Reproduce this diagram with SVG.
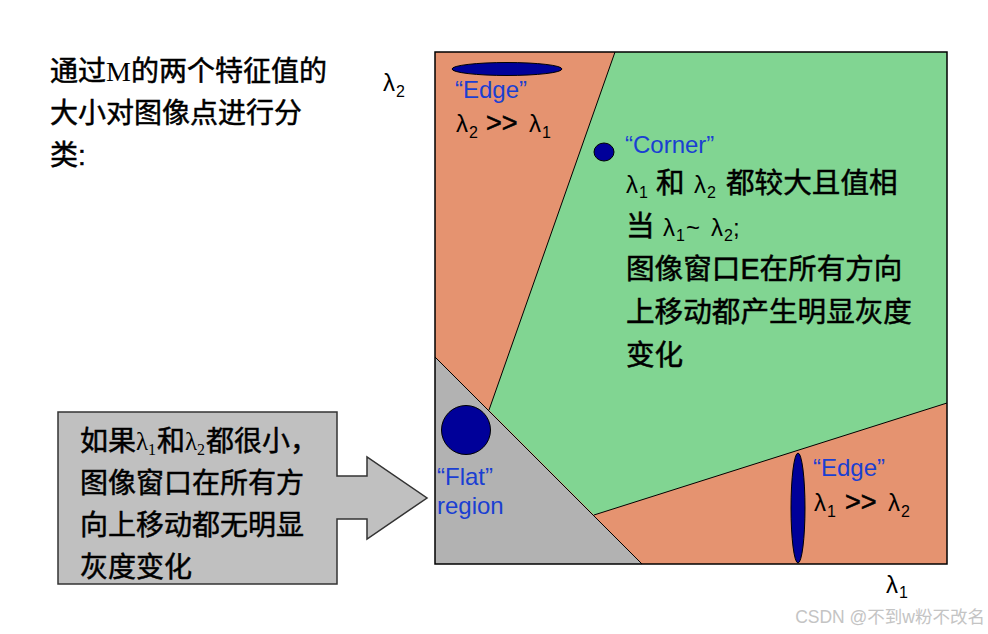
<svg xmlns="http://www.w3.org/2000/svg" width="988" height="634" viewBox="0 0 988 634">
<style>
.cjk{font-family:"Liberation Sans","Noto Sans CJK SC",sans-serif;font-size:28px;fill:#000;stroke:#000;stroke-width:0.5px}
.rc{font-size:28.6px}
.lat{font-family:"Liberation Sans",sans-serif;fill:#000}
.lam{font-size:24px}
.gt{font-size:27px;stroke:#000;stroke-width:0.6px}
.sub{font-size:16px}
.ser{font-family:"Liberation Serif",serif;stroke:none}
.blue{font-family:"Liberation Sans",sans-serif;font-size:24px;fill:#1a3fd2}
.bnd{fill:none;stroke:#000;stroke-width:1}
.dot{fill:#000099;stroke:#000;stroke-width:1}
</style>
<rect width="988" height="634" fill="#fff"/>

<g id="title">
<text class="cjk" x="50" y="81">通过<tspan class="ser" font-size="28">M</tspan>的两个特征值的</text>
<text class="cjk" x="50" y="123">大小对图像点进行分</text>
<text class="cjk" x="50" y="165">类:</text>
</g>

<g id="plot">
<rect x="435" y="52" width="512" height="512" fill="#e59370"/>
<polygon points="615,52 947,52 947,403 594,515 489,410" fill="#81d592"/>
<polygon points="435,357 642,564 435,564" fill="#b2b2b2"/>
<polyline class="bnd" points="615,52 489,410"/>
<polyline class="bnd" points="947,403 594,515"/>
<polyline class="bnd" points="435,357 642,564"/>
<rect x="435" y="52" width="512" height="512" fill="none" stroke="#000" stroke-width="1.5"/>
</g>

<g id="axis-labels">
<text class="lat" x="383" y="91"><tspan class="lam">λ</tspan><tspan class="sub" x="396" y="97">2</tspan></text>
<text class="lat" x="886" y="593"><tspan class="lam">λ</tspan><tspan class="sub" x="899" y="598">1</tspan></text>
</g>

<g id="edge-top">
<ellipse class="dot" cx="507" cy="69" rx="55" ry="6.5"/>
<text class="blue" x="455" y="98">“Edge”</text>
<text class="lat" x="456" y="132"><tspan class="lam">λ</tspan><tspan class="sub" x="469" y="138">2</tspan><tspan class="gt" x="486" y="132">&gt;&gt;</tspan><tspan class="lam" x="529" y="132">λ</tspan><tspan class="sub" x="542" y="138">1</tspan></text>
</g>

<g id="corner">
<ellipse class="dot" cx="604" cy="152" rx="10" ry="9"/>
<text class="blue" x="625" y="153">“Corner”</text>
<text class="lat" x="626" y="193"><tspan class="lam">λ</tspan><tspan class="sub" x="639" y="198">1</tspan></text>
<text class="cjk rc" x="656" y="193">和</text>
<text class="lat" x="694" y="193"><tspan class="lam">λ</tspan><tspan class="sub" x="707" y="198">2</tspan></text>
<text class="cjk rc" x="726" y="193">都较大且值相</text>
<text class="cjk rc" x="626" y="236">当</text>
<text class="lat" x="663" y="236"><tspan class="lam">λ</tspan><tspan class="sub" x="676" y="241">1</tspan><tspan class="lam" x="686" y="236">~</tspan><tspan class="lam" x="711" y="236">λ</tspan><tspan class="sub" x="724" y="241">2</tspan><tspan class="lam" x="733" y="236">;</tspan></text>
<text class="cjk rc" x="626" y="279">图像窗口E在所有方向</text>
<text class="cjk rc" x="626" y="322">上移动都产生明显灰度</text>
<text class="cjk rc" x="626" y="365">变化</text>
</g>

<g id="flat">
<circle class="dot" cx="466" cy="430" r="24.5"/>
<text class="blue" x="437" y="485">“Flat”</text>
<text class="blue" x="437" y="514">region</text>
</g>

<g id="edge-right">
<ellipse class="dot" cx="798" cy="508" rx="7" ry="55"/>
<text class="blue" x="813" y="476">“Edge”</text>
<text class="lat" x="814" y="511"><tspan class="lam">λ</tspan><tspan class="sub" x="827" y="517">1</tspan><tspan class="gt" x="845" y="511">&gt;&gt;</tspan><tspan class="lam" x="888" y="511">λ</tspan><tspan class="sub" x="901" y="517">2</tspan></text>
</g>

<g id="callout">
<polygon points="58,412 337,412 337,476 367,476 367,457 427,498 367,539 367,519 337,519 337,584 58,584" fill="#c0c0c0" stroke="#333" stroke-width="1.5"/>
<text class="cjk" x="80" y="451">如果</text>
<text class="ser" x="136" y="450" font-size="25">λ</text>
<text class="ser" x="148" y="455" font-size="16">1</text>
<text class="cjk" x="157" y="451">和</text>
<text class="ser" x="185" y="450" font-size="25">λ</text>
<text class="ser" x="197" y="455" font-size="16">2</text>
<text class="cjk" x="206" y="451">都很小，</text>
<text class="cjk" x="80" y="493">图像窗口在所有方</text>
<text class="cjk" x="80" y="535">向上移动都无明显</text>
<text class="cjk" x="80" y="577">灰度变化</text>
</g>

<g id="watermark">
<text x="985" y="623" text-anchor="end" font-family="Liberation Sans,'Noto Sans CJK SC',sans-serif" font-size="17.5" fill="#c4c4c4">CSDN @不到w粉不改名</text>
</g>
</svg>
